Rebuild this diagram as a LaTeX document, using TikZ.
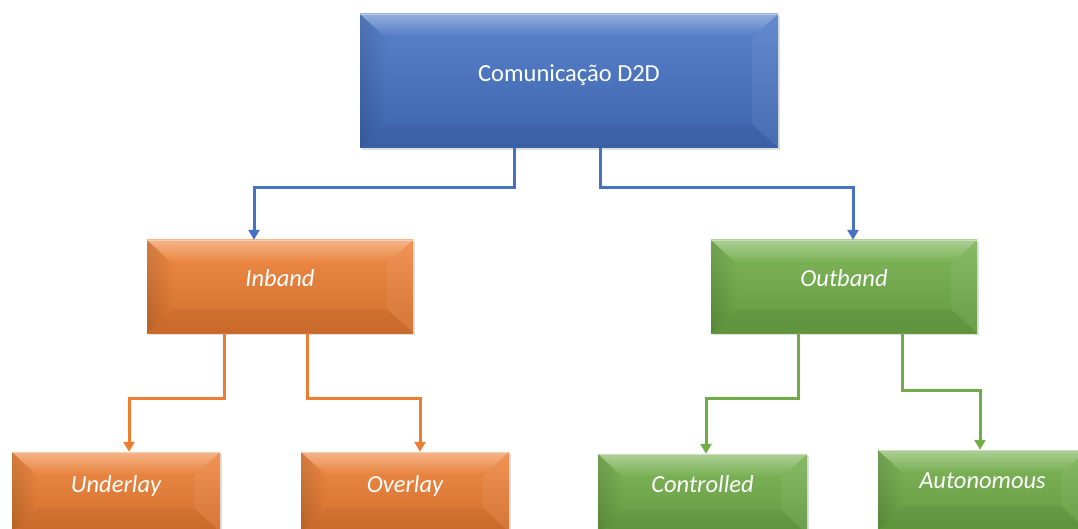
\documentclass[tikz,border=0pt]{standalone}
\usepackage{fontspec}
\setmainfont{Carlito}
\usetikzlibrary{arrows.meta,shadows,calc}

\definecolor{cblue}{HTML}{4472C4}
\definecolor{corange}{HTML}{ED7D31}
\definecolor{cgreen}{HTML}{70AD47}

\tikzset{
  bevel/.style={
    draw=none, fill=#1, inner sep=0pt, text=white,
    font=\fontsize{24.5}{28}\selectfont\itshape,
    drop shadow={opacity=0.25, shadow xshift=1.5pt, shadow yshift=-2pt},
    path picture={
      \coordinate (bnw) at (path picture bounding box.north west);
      \coordinate (bne) at (path picture bounding box.north east);
      \coordinate (bsw) at (path picture bounding box.south west);
      \coordinate (bse) at (path picture bounding box.south east);
      \coordinate (inw) at ([shift={(26pt,-24pt)}]bnw);
      \coordinate (ine) at ([shift={(-26pt,-24pt)}]bne);
      \coordinate (isw) at ([shift={(26pt,24pt)}]bsw);
      \coordinate (ise) at ([shift={(-26pt,24pt)}]bse);
      % face
      \shade[top color=#1!88!white, bottom color=#1!88!black] (bnw) rectangle (bse);
      % top facet
      \shade[top color=white, bottom color=#1, opacity=0.35]
        (bnw) -- (bne) -- (ine) -- (inw) -- cycle;
      % left facet
      \shade[left color=black, right color=#1, opacity=0.12]
        (bnw) -- (inw) -- (isw) -- (bsw) -- cycle;
      % right facet
      \fill[white, opacity=0.06] (bne) -- (ine) -- (ise) -- (bse) -- cycle;
      % bottom facet
      \fill[black, opacity=0.04] (bsw) -- (isw) -- (ise) -- (bse) -- cycle;
      % light rim on the top edge
      \draw[white, opacity=0.35, line width=1.5pt] (bnw) -- (bne);
    }
  },
  conn/.style={draw=#1, line width=3pt,
    -{Triangle[width=11pt,length=10pt]}},
}

\begin{document}
\begin{tikzpicture}[x=1pt,y=-1pt]
  \useasboundingbox (0,0) rectangle (1078,529);

  % boxes
  \node[bevel=cblue, minimum width=418pt, minimum height=134pt,
        font=\fontsize{24.5}{28}\selectfont\upshape]
        (root) at (569,81) {\raisebox{16pt}{Comunicação D2D}};
  \node[bevel=corange, minimum width=266pt, minimum height=93pt]
        (inband) at (280,286.5) {\raisebox{17pt}{Inband}};
  \node[bevel=cgreen, minimum width=266pt, minimum height=93pt]
        (outband) at (844,286.5) {\raisebox{17pt}{Outband}};
  \node[bevel=corange, minimum width=208pt, minimum height=80pt]
        (underlay) at (116,492) {\raisebox{16pt}{Underlay}};
  \node[bevel=corange, minimum width=208pt, minimum height=80pt]
        (overlay) at (405,492) {\raisebox{16pt}{Overlay}};
  \node[bevel=cgreen, minimum width=209pt, minimum height=80pt]
        (controlled) at (702.5,494) {\raisebox{20pt}{Controlled}};
  \node[bevel=cgreen, minimum width=209pt, minimum height=80pt]
        (autonomous) at (982.5,490) {\raisebox{18pt}{Autonomous}};

  % connectors
  \draw[conn=cblue] ([xshift=-55pt]root.south) -- ++(0,39)
        -| ([xshift=-26pt]inband.north);
  \draw[conn=cblue] ([xshift=31pt]root.south) -- ++(0,39)
        -| ([xshift=9pt]outband.north);
  \draw[conn=corange] ([xshift=-56pt]inband.south) -- ++(0,65)
        -| ([xshift=13pt]underlay.north);
  \draw[conn=corange] ([xshift=27pt]inband.south) -- ++(0,65)
        -| ([xshift=15pt]overlay.north);
  \draw[conn=cgreen] ([xshift=-46pt]outband.south) -- ++(0,65)
        -| ([xshift=3.5pt]controlled.north);
  \draw[conn=cgreen] ([xshift=58pt]outband.south) -- ++(0,57)
        -| ([xshift=-2.5pt]autonomous.north);
\end{tikzpicture}
\end{document}
